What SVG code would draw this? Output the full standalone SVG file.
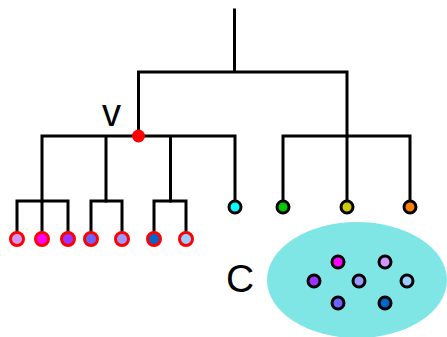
<svg xmlns="http://www.w3.org/2000/svg" width="447" height="337" viewBox="0 0 447 337">
<style>
.e{fill:none;stroke:#000;stroke-width:3;stroke-linecap:square}
.lf{stroke:#ff0000;stroke-width:3}
.bk{stroke:#000;stroke-width:3}
.t{font-family:"Liberation Sans",Arial,sans-serif;fill:#000}
</style>
<rect width="447" height="337" fill="#fff"/>
<g id="connectors" class="e">
<path d="M234.5 10V72M138.5 72H347M138.5 72V136M347 72V136"/>
<path d="M42 136H235M42 136V201M106 136V201M170.5 136V201M235 136V201"/>
<path d="M283 136H410M283 136V201M347 136V201M410 136V201"/>
<path d="M17 201H68M17 201V233M42 201V233M68 201V233"/>
<path d="M91 201H122M91 201V233M122 201V233"/>
<path d="M154 201H186M154 201V233M186 201V233"/>
</g>
<g id="cluster">
<ellipse cx="357" cy="280" rx="90" ry="58" fill="#80e5e5"/>
<text class="t" x="226" y="292" font-size="39">C</text>
</g>
<g id="v">
<circle cx="138.5" cy="136" r="6.5" fill="#ff0000"/>
<text class="t" x="102" y="126" font-size="38">v</text>
</g>
<g id="leaves">
<circle id="l1" class="lf" cx="17" cy="239" r="6.5" fill="#cc99ff"/>
<circle id="l2" class="lf" cx="42" cy="239" r="6.5" fill="#ff00ff"/>
<circle id="l3" class="lf" cx="68" cy="239" r="6.5" fill="#9933ff"/>
<circle id="l4" class="lf" cx="91" cy="239" r="6.5" fill="#6666ff"/>
<circle id="l5" class="lf" cx="122" cy="239" r="6.5" fill="#9999ff"/>
<circle id="l6" class="lf" cx="154" cy="239" r="6.5" fill="#0066cc"/>
<circle id="l7" class="lf" cx="186" cy="239" r="6.5" fill="#99ccff"/>
<circle id="r1" class="bk" cx="235" cy="207" r="6" fill="#00ffff"/>
<circle id="r2" class="bk" cx="283" cy="207" r="6" fill="#00cc00"/>
<circle id="r3" class="bk" cx="347" cy="207" r="6" fill="#cccc00"/>
<circle id="r4" class="bk" cx="410" cy="207" r="6" fill="#ff8000"/>
</g>
<g id="members">
<circle class="bk" cx="338" cy="262" r="6" fill="#ff00ff"/>
<circle class="bk" cx="385" cy="262" r="6" fill="#cc99ff"/>
<circle class="bk" cx="314" cy="281" r="6" fill="#9933ff"/>
<circle class="bk" cx="359" cy="281" r="6" fill="#9999ff"/>
<circle class="bk" cx="407" cy="281" r="6" fill="#99ccff"/>
<circle class="bk" cx="338" cy="303" r="6" fill="#6666ff"/>
<circle class="bk" cx="385" cy="303" r="6" fill="#0066cc"/>
</g>
</svg>
